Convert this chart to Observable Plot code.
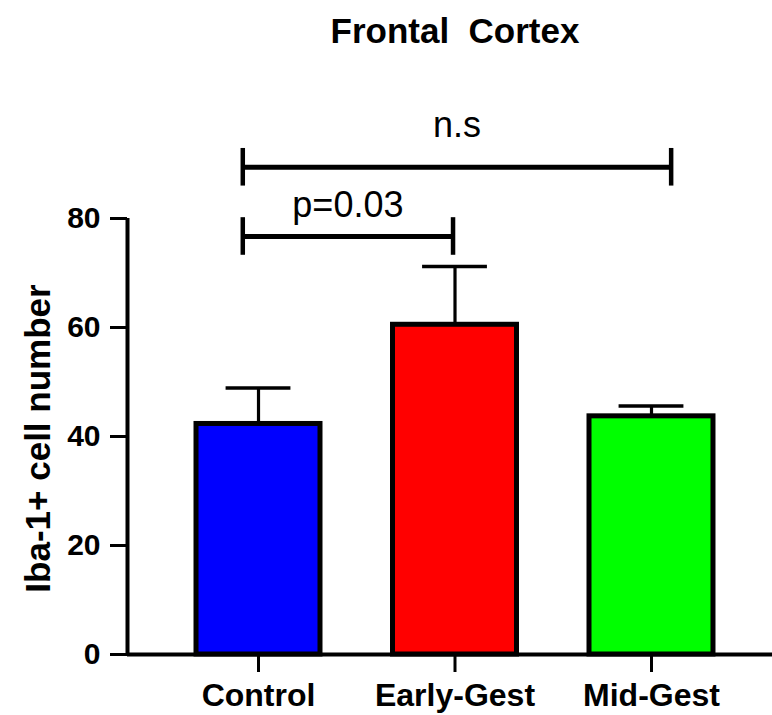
<!DOCTYPE html>
<html>
<head>
<meta charset="utf-8">
<script src="https://cdn.jsdelivr.net/npm/d3@7"></script>
<script src="https://cdn.jsdelivr.net/npm/@observablehq/plot@0.6"></script>
<style>
  html, body { margin: 0; padding: 0; background: #fff; }
  #title {
    width: 772px; height: 58px; box-sizing: border-box;
    padding-top: 14px; padding-left: 138px;
    text-align: center; white-space: pre;
    font-family: "Liberation Sans", Arial, sans-serif;
    font-weight: bold; font-size: 35px; line-height: 34px; color: #000;
  }
</style>
</head>
<body>
<div id="title"></div>
<div id="chart"></div>
<script>
// ---- data ----
const title = "Frontal  Cortex";
const yLabel = "Iba-1+ cell number";
const categories = ["Control", "Early-Gest", "Mid-Gest"];
const means = [42.3, 60.5, 43.7];
const errors = [6.6, 10.7, 1.9];
const colors = ["#0000FF", "#FF0000", "#00FF00"];
const yTicks = [0, 20, 40, 60, 80];
// significance brackets (x in category-index units, y in value units)
const bracketLabels = ["p=0.03", "n.s"];
const bracketFrom = [-0.08, -0.08];
const bracketTo = [0.99, 2.1];
const bracketY = [76.7, 89.4];

// ---- layout constants ----
const font = "'Liberation Sans', Arial, sans-serif";
const barHalf = 0.3155;
const capHalf = 0.165;
const endHalf = 3.45;
const xDomain = [-0.6667, 2.6158];

document.getElementById("title").textContent = title;

const idx = categories.map((_, i) => i);
const brackets = bracketLabels.map((label, i) => ({
  label, x1: bracketFrom[i], x2: bracketTo[i], y: bracketY[i]
}));
const bracketEnds = brackets.flatMap(b => [{x: b.x1, y: b.y}, {x: b.x2, y: b.y}]);

const chart = Plot.plot({
  width: 772,
  height: 657,
  marginTop: 160,
  marginBottom: 61,
  marginLeft: 127,
  marginRight: 0,
  style: {fontFamily: font, color: "#000", background: "#fff", overflow: "visible"},
  x: {domain: xDomain, axis: null},
  y: {domain: [0, 80], axis: null},
  color: {type: "identity"},
  marks: [
    Plot.axisY({ticks: yTicks, tickSize: 17, tickPadding: 10, fontSize: 30, fontWeight: "bold", strokeWidth: 3, label: null}),
    Plot.axisX({ticks: idx, tickFormat: i => categories[i], tickSize: 18, tickPadding: 11, fontSize: 32, fontWeight: "bold", strokeWidth: 3, label: null}),
    // error bars (upper)
    Plot.ruleX(idx, {x: i => i, y1: i => means[i], y2: i => means[i] + errors[i], strokeWidth: 3.2}),
    Plot.ruleY(idx, {y: i => means[i] + errors[i], x1: i => i - capHalf, x2: i => i + capHalf, strokeWidth: 3.5}),
    // bars
    Plot.rectY(idx, {x1: i => i - barHalf, x2: i => i + barHalf, y1: 0, y2: i => means[i], fill: i => colors[i], stroke: "#000", strokeWidth: 5}),
    // axis lines
    Plot.ruleX([xDomain[0]], {y1: 0, y2: 80, strokeWidth: 4}),
    Plot.ruleY([0], {strokeWidth: 4}),
    // brackets
    Plot.ruleY(brackets, {y: "y", x1: "x1", x2: "x2", strokeWidth: 5}),
    Plot.ruleX(bracketEnds, {x: "x", y1: d => d.y - endHalf, y2: d => d.y + endHalf, strokeWidth: 4.5}),
    Plot.text([brackets[0]], {x: d => (d.x1 + d.x2) / 2, y: "y", text: "label", dy: -19, lineAnchor: "bottom", fontSize: 36, fontWeight: "normal"}),
    Plot.text([brackets[1]], {x: d => (d.x1 + d.x2) / 2, y: "y", text: "label", dy: -30, lineAnchor: "bottom", fontSize: 36, fontWeight: "normal"}),
    // y label
    Plot.text([yLabel], {text: d => d, frameAnchor: "left", textAnchor: "middle", rotate: -90, dx: -78, dy: 2, lineAnchor: "bottom", fontSize: 35, fontWeight: "bold"})
  ]
});
document.getElementById("chart").appendChild(chart);
</script>
</body>
</html>
